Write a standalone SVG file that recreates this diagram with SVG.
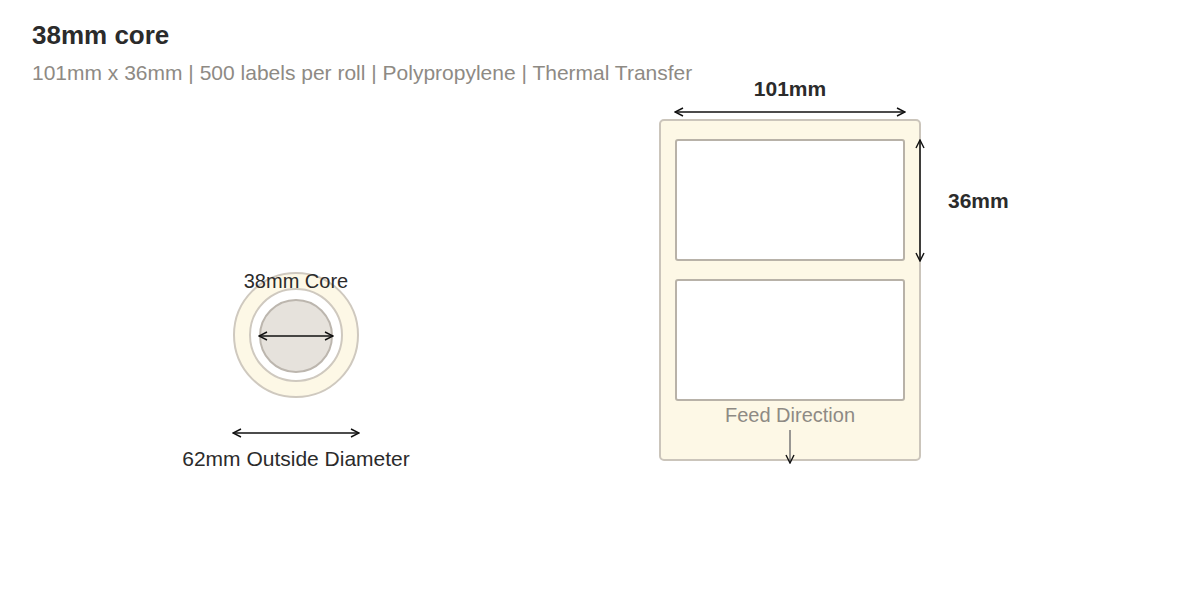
<svg xmlns="http://www.w3.org/2000/svg" width="1200" height="600" viewBox="0 0 1200 600">
<defs>
<marker id="ah" viewBox="0 0 10 10" refX="9" refY="5" markerWidth="10" markerHeight="10" markerUnits="userSpaceOnUse" orient="auto-start-reverse">
<path d="M1,1 L9,5 L1,9" fill="none" stroke="#111" stroke-width="1.4"/>
</marker>
<style>
text{font-family:"Liberation Sans",Arial,sans-serif}
.dim{stroke:#111;stroke-width:1.5;fill:none;marker-start:url(#ah);marker-end:url(#ah)}
.lbl{fill:#fff;stroke:#b8b2a8;stroke-width:2}
</style>
</defs>
<rect width="1200" height="600" fill="#fff"/>
<text x="32" y="44" font-size="26" font-weight="bold" fill="#2b2b2b">38mm core</text>
<text x="32" y="80" font-size="21" fill="#8e8a84">101mm x 36mm | 500 labels per roll | Polypropylene | Thermal Transfer</text>
<g id="roll">
<circle cx="296" cy="335" r="62" fill="#fdf8e6" stroke="#cfc9bf" stroke-width="2"/>
<circle cx="296" cy="335" r="46" fill="#fff" stroke="#cfc9bf" stroke-width="2"/>
<circle cx="296" cy="336" r="36" fill="#e6e2dc" stroke="#bcb6ae" stroke-width="2"/>
<text x="296" y="288" font-size="20" text-anchor="middle" fill="#2b2b2b">38mm Core</text>
<text x="296" y="466" font-size="21" text-anchor="middle" fill="#2b2b2b">62mm Outside Diameter</text>
</g>
<g id="sheet">
<rect x="660" y="120" width="260" height="340" rx="4" fill="#fdf8e6" stroke="#cbc5bb" stroke-width="2"/>
<rect class="lbl" x="676" y="140" width="228" height="120" rx="2"/>
<rect class="lbl" x="676" y="280" width="228" height="120" rx="2"/>
<text x="790" y="96" font-size="21" font-weight="bold" text-anchor="middle" fill="#2b2b2b">101mm</text>
<text x="948" y="208" font-size="21" font-weight="bold" fill="#2b2b2b">36mm</text>
<text x="790" y="422" font-size="20" text-anchor="middle" fill="#8e8a84">Feed Direction</text>
</g>
<g id="connectors">
<line class="dim" x1="259" y1="336" x2="333" y2="336"/>
<line class="dim" x1="233" y1="433" x2="359" y2="433"/>
<line class="dim" x1="675" y1="112" x2="905" y2="112"/>
<line class="dim" x1="920" y1="140" x2="920" y2="261"/>
<line x1="790" y1="430" x2="790" y2="463" stroke="#777" stroke-width="1.5" marker-end="url(#ah)"/>
</g>
</svg>
